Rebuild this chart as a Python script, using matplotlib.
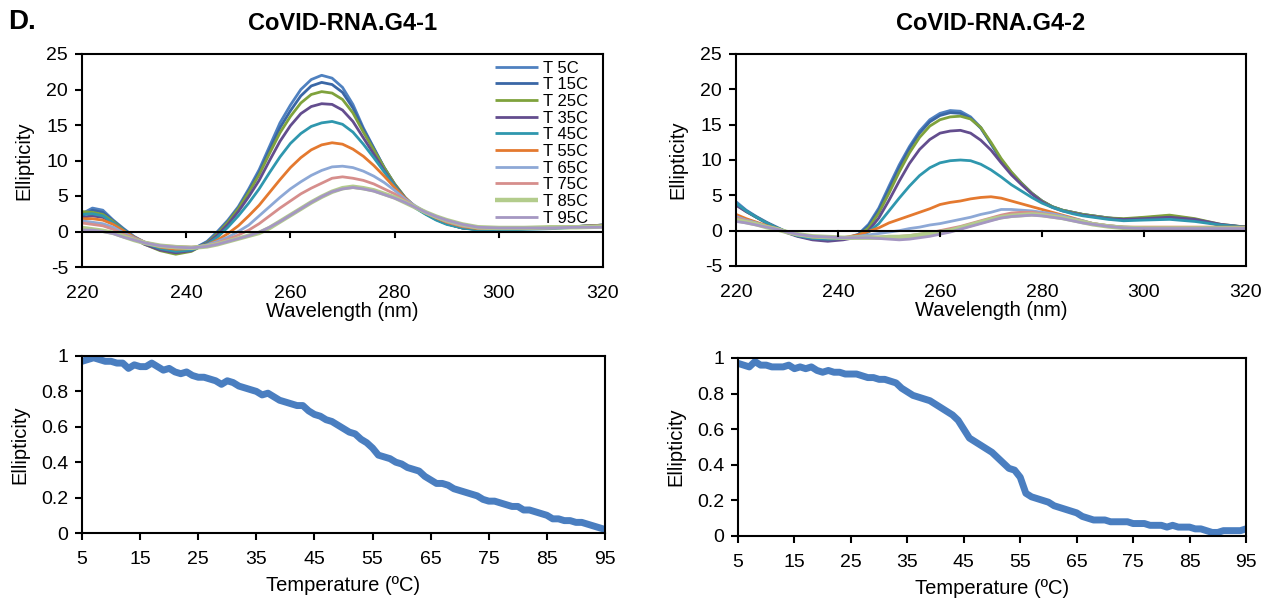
import matplotlib
matplotlib.use("Agg")
import matplotlib.pyplot as plt

plt.rcParams["font.family"] = ["Liberation Sans", "DejaVu Sans"]
plt.rcParams["axes.unicode_minus"] = False

# ---- CD spectra: wavelength grid (nm) ----
wl = [220, 222, 224, 226, 228, 230, 232, 235, 238, 241, 244, 246, 248, 250,
      252, 254, 256, 258, 260, 262, 264, 266, 268, 270, 272, 274, 276, 278,
      280, 282, 284, 286, 288, 290, 293, 296, 300, 305, 310, 315, 320]

temps = ["T 5C", "T 15C", "T 25C", "T 35C", "T 45C",
         "T 55C", "T 65C", "T 75C", "T 85C", "T 95C"]
colors = ["#4F81C0", "#3A67A6", "#7FA23C", "#634D8E", "#2F97AE",
          "#E4792F", "#8DA8D6", "#D68E8C", "#B3CC8C", "#A597C2"]
widths = [2.0, 2.0, 2.0, 2.0, 2.0, 2.0, 2.0, 2.0, 3.2, 2.0]

# CoVID-RNA.G4-1
g1_t5 = [2.5, 3.3, 3.0, 1.6, 0.4, -0.7, -1.5, -2.4, -3.0, -2.6, -1.4, 0.0, 1.6, 3.5,
         6.0, 8.7, 12.0, 15.3, 17.8, 20.0, 21.4, 22.0, 21.6, 20.3, 17.9, 14.6, 11.8, 9.0,
         6.6, 4.7, 3.4, 2.5, 1.7, 1.1, 0.5, 0.3, 0.3, 0.4, 0.5, 0.7, 0.9]
g1_t15 = [2.2, 3.0, 2.7, 1.5, 0.3, -0.8, -1.6, -2.5, -3.0, -2.6, -1.5, -0.2, 1.4, 3.3,
          5.7, 8.3, 11.5, 14.6, 17.0, 19.1, 20.5, 21.0, 20.7, 19.6, 17.4, 14.4, 11.7, 9.0,
          6.7, 4.8, 3.4, 2.5, 1.7, 1.1, 0.5, 0.3, 0.3, 0.4, 0.5, 0.7, 0.9]
g1_t25 = [2.8, 2.7, 2.4, 1.4, 0.2, -0.9, -1.8, -2.7, -3.2, -2.8, -1.6, -0.3, 1.3, 3.2,
          5.5, 8.0, 11.0, 13.9, 16.2, 18.1, 19.3, 19.7, 19.5, 18.6, 16.7, 14.0, 11.5, 9.0,
          6.7, 4.8, 3.4, 2.5, 1.7, 1.1, 0.5, 0.3, 0.3, 0.4, 0.5, 0.7, 0.9]
g1_t35 = [2.0, 2.2, 2.0, 1.2, 0.1, -1.0, -1.8, -2.6, -3.0, -2.7, -1.7, -0.5, 1.0, 2.8,
          4.9, 7.2, 10.0, 12.7, 14.9, 16.6, 17.6, 18.0, 17.9, 17.1, 15.5, 13.2, 10.9, 8.6,
          6.5, 4.7, 3.4, 2.5, 1.7, 1.1, 0.5, 0.3, 0.3, 0.4, 0.5, 0.7, 0.9]
g1_t45 = [2.4, 2.5, 2.2, 1.2, 0.2, -0.8, -1.6, -2.4, -2.8, -2.6, -1.8, -0.8, 0.6, 2.2,
          4.0, 6.0, 8.3, 10.5, 12.4, 13.8, 14.8, 15.3, 15.5, 15.1, 14.0, 12.3, 10.4, 8.4,
          6.4, 4.6, 3.3, 2.4, 1.6, 1.0, 0.5, 0.2, 0.2, 0.3, 0.4, 0.6, 0.8]
g1_t55 = [1.8, 1.8, 1.6, 1.0, 0.1, -0.8, -1.5, -2.2, -2.5, -2.4, -1.9, -1.2, -0.3, 0.8,
          2.2, 3.7, 5.5, 7.3, 9.0, 10.4, 11.5, 12.2, 12.5, 12.3, 11.6, 10.6, 9.3, 7.8,
          6.2, 4.7, 3.5, 2.6, 1.9, 1.3, 0.7, 0.4, 0.4, 0.5, 0.6, 0.7, 0.8]
g1_t65 = [1.5, 1.3, 1.1, 0.6, -0.2, -0.9, -1.5, -2.1, -2.3, -2.3, -1.9, -1.4, -0.8, 0.0,
          0.9, 2.2, 3.5, 4.8, 6.0, 7.0, 7.9, 8.6, 9.1, 9.2, 9.0, 8.5, 7.8, 6.9,
          5.8, 4.6, 3.6, 2.7, 2.0, 1.4, 0.8, 0.5, 0.4, 0.5, 0.5, 0.6, 0.7]
g1_t75 = [1.2, 1.0, 0.8, 0.3, -0.4, -1.0, -1.5, -2.0, -2.1, -2.2, -2.0, -1.6, -1.1, -0.5,
          0.2, 1.1, 2.2, 3.3, 4.3, 5.3, 6.1, 6.8, 7.5, 7.7, 7.5, 7.2, 6.7, 6.0,
          5.3, 4.4, 3.5, 2.7, 2.0, 1.4, 0.8, 0.5, 0.4, 0.5, 0.5, 0.6, 0.7]
g1_t85 = [0.5, 0.3, 0.1, -0.2, -0.7, -1.2, -1.6, -2.0, -2.2, -2.3, -2.1, -1.8, -1.4, -1.0,
          -0.6, -0.2, 0.5, 1.4, 2.3, 3.2, 4.1, 4.9, 5.6, 6.1, 6.3, 6.1, 5.8, 5.3,
          4.8, 4.1, 3.4, 2.7, 2.1, 1.6, 1.0, 0.6, 0.5, 0.5, 0.6, 0.6, 0.7]
g1_t95 = [0.2, 0.2, 0.0, -0.3, -0.8, -1.2, -1.6, -2.0, -2.2, -2.3, -2.1, -1.8, -1.4, -1.0,
          -0.6, -0.1, 0.6, 1.4, 2.3, 3.2, 4.1, 4.9, 5.6, 6.0, 6.2, 6.0, 5.7, 5.2,
          4.7, 4.1, 3.4, 2.7, 2.1, 1.6, 1.0, 0.6, 0.5, 0.5, 0.5, 0.6, 0.6]

# CoVID-RNA.G4-2
g2_t5 = [4.1, 2.9, 2.0, 1.2, 0.5, -0.2, -0.7, -1.2, -1.3, -1.2, -0.5, 0.9, 3.2, 6.3,
         9.3, 11.9, 14.1, 15.7, 16.6, 17.0, 16.9, 16.1, 14.6, 12.3, 10.0, 8.2, 6.7, 5.3,
         4.2, 3.4, 2.9, 2.6, 2.3, 2.1, 1.8, 1.6, 1.8, 2.0, 1.5, 0.8, 0.5]
g2_t15 = [3.8, 2.8, 1.9, 1.1, 0.4, -0.2, -0.7, -1.2, -1.3, -1.2, -0.6, 0.7, 2.9, 5.9,
          8.9, 11.6, 13.8, 15.4, 16.3, 16.7, 16.6, 15.9, 14.5, 12.3, 10.0, 8.2, 6.7, 5.3,
          4.2, 3.4, 2.9, 2.6, 2.3, 2.1, 1.8, 1.6, 1.8, 2.1, 1.6, 0.8, 0.5]
g2_t25 = [3.7, 2.7, 1.9, 1.1, 0.4, -0.2, -0.7, -1.2, -1.3, -1.2, -0.7, 0.4, 2.5, 5.3,
          8.3, 11.0, 13.2, 14.8, 15.7, 16.1, 16.2, 15.8, 14.6, 12.5, 10.2, 8.3, 6.7, 5.3,
          4.2, 3.4, 2.9, 2.6, 2.3, 2.1, 1.8, 1.7, 1.9, 2.2, 1.7, 0.9, 0.5]
g2_t35 = [3.6, 2.7, 1.9, 1.1, 0.4, -0.3, -0.8, -1.3, -1.5, -1.3, -0.9, 0.0, 1.8, 4.3,
          7.0, 9.5, 11.5, 12.9, 13.8, 14.1, 14.2, 13.8, 12.8, 11.4, 9.6, 7.9, 6.5, 5.2,
          4.1, 3.3, 2.8, 2.5, 2.2, 2.0, 1.7, 1.6, 1.7, 1.9, 1.6, 0.9, 0.5]
g2_t45 = [3.9, 2.8, 1.9, 1.1, 0.4, -0.2, -0.7, -1.1, -1.2, -1.1, -0.8, -0.2, 1.0, 2.8,
          4.6, 6.3, 7.8, 8.9, 9.6, 9.9, 10.0, 9.9, 9.4, 8.6, 7.6, 6.5, 5.6, 4.7,
          3.9, 3.3, 2.8, 2.4, 2.1, 1.9, 1.6, 1.4, 1.5, 1.6, 1.3, 0.8, 0.5]
g2_t55 = [2.3, 1.7, 1.2, 0.7, 0.3, -0.2, -0.5, -0.9, -1.0, -1.0, -0.6, -0.1, 0.4, 1.1,
          1.6, 2.1, 2.6, 3.1, 3.7, 4.0, 4.2, 4.5, 4.7, 4.8, 4.6, 4.2, 3.8, 3.4,
          3.0, 2.6, 2.2, 1.8, 1.4, 1.0, 0.7, 0.5, 0.5, 0.5, 0.5, 0.5, 0.5]
g2_t65 = [2.0, 1.5, 1.1, 0.6, 0.2, -0.2, -0.5, -0.8, -1.0, -1.0, -0.8, -0.6, -0.4, -0.2,
          0.0, 0.3, 0.5, 0.8, 1.0, 1.3, 1.6, 1.9, 2.3, 2.6, 3.0, 3.0, 2.9, 2.8,
          2.6, 2.4, 2.1, 1.7, 1.4, 1.0, 0.7, 0.5, 0.4, 0.4, 0.4, 0.4, 0.4]
g2_t75 = [1.8, 1.4, 1.0, 0.6, 0.2, -0.2, -0.5, -0.8, -0.9, -1.0, -1.0, -0.9, -0.9, -0.8,
          -0.8, -0.7, -0.5, -0.3, 0.0, 0.3, 0.6, 1.0, 1.4, 1.8, 2.2, 2.5, 2.6, 2.6,
          2.4, 2.2, 1.9, 1.6, 1.3, 1.0, 0.7, 0.5, 0.4, 0.4, 0.4, 0.4, 0.4]
g2_t85 = [1.5, 1.2, 0.9, 0.5, 0.2, -0.2, -0.5, -0.8, -0.9, -1.0, -1.0, -1.0, -1.0, -0.9,
          -0.9, -0.8, -0.6, -0.4, -0.2, 0.0, 0.4, 0.8, 1.2, 1.6, 1.9, 2.1, 2.2, 2.3,
          2.2, 2.0, 1.8, 1.5, 1.2, 0.9, 0.6, 0.4, 0.3, 0.3, 0.3, 0.3, 0.3]
g2_t95 = [1.3, 1.1, 0.8, 0.5, 0.2, -0.2, -0.5, -0.8, -0.9, -1.0, -1.0, -1.0, -1.1, -1.2,
          -1.3, -1.2, -1.0, -0.8, -0.5, -0.2, 0.2, 0.6, 1.0, 1.4, 1.8, 2.0, 2.1, 2.2,
          2.1, 1.9, 1.7, 1.4, 1.1, 0.9, 0.6, 0.4, 0.3, 0.3, 0.3, 0.3, 0.3]

g1_spectra = [g1_t5, g1_t15, g1_t25, g1_t35, g1_t45, g1_t55, g1_t65, g1_t75, g1_t85, g1_t95]
g2_spectra = [g2_t5, g2_t15, g2_t25, g2_t35, g2_t45, g2_t55, g2_t65, g2_t75, g2_t85, g2_t95]

# ---- melting curves (normalised ellipticity vs temperature) ----
temp_c = list(range(5, 96))
melt_g1 = [.97, .98, .99, .98, .97, .97, .96, .96, .93, .95, .94, .94, .96, .94, .92,
           .93, .91, .90, .91, .89, .88, .88, .87, .86, .84, .86, .85, .83, .82, .81,
           .80, .78, .79, .77, .75, .74, .73, .72, .72, .69, .67, .66, .64, .63, .61,
           .59, .57, .56, .53, .51, .48, .44, .43, .42, .40, .39, .37, .36, .35, .32,
           .30, .28, .28, .27, .25, .24, .23, .22, .21, .19, .18, .18, .17, .16, .15,
           .15, .13, .13, .12, .11, .10, .08, .08, .07, .07, .06, .06, .05, .04, .03, .02]
melt_g2 = [.97, .96, .95, .98, .96, .96, .95, .95, .95, .96, .94, .95, .94, .95, .93,
           .92, .93, .92, .92, .91, .91, .91, .90, .89, .89, .88, .88, .87, .86, .83,
           .81, .79, .78, .77, .76, .74, .72, .70, .68, .65, .60, .55, .53, .51, .49,
           .47, .44, .41, .38, .37, .33, .24, .22, .21, .20, .19, .17, .16, .15, .14,
           .13, .11, .10, .09, .09, .09, .08, .08, .08, .08, .07, .07, .07, .06, .06,
           .06, .05, .06, .05, .05, .05, .04, .04, .03, .02, .02, .03, .03, .03, .03, .04]

W, H = 1273, 602
fig = plt.figure(figsize=(W / 100, H / 100), dpi=100)
TICK_FS = 14
LAB_FS = 14.5


def box(ax):
    for s in ax.spines.values():
        s.set_linewidth(1.5)
        s.set_color("black")
    ax.tick_params(axis="both", labelsize=TICK_FS, width=1.5, length=5, direction="out")
    ax.tick_params(axis="y", pad=5)


def cd_panel(rect, spectra, title, legend):
    ax = fig.add_axes(rect)
    for ys, c, lw, lab in zip(spectra, colors, widths, temps):
        ax.plot(wl, ys, color=c, lw=lw, label=lab, solid_capstyle="butt")
    ax.set_xlim(220, 320)
    ax.set_ylim(-5, 25)
    ax.set_xticks(range(220, 321, 20))
    ax.set_yticks(range(-5, 26, 5))
    box(ax)
    # excel-style horizontal axis crossing at zero
    ax.axhline(0, color="black", lw=1.5, zorder=3)
    ax.tick_params(axis="x", length=0, pad=13)
    for x in ax.get_xticks()[1:-1]:
        ax.plot([x, x], [0, -0.8], color="black", lw=1.5, zorder=3)
    ax.set_ylabel("Ellipticity", fontsize=LAB_FS, labelpad=9)
    ax.set_xlabel("Wavelength (nm)", fontsize=LAB_FS, labelpad=0)
    ax.set_title(title, fontsize=17, fontweight="bold", pad=17)
    if legend:
        ax.legend(loc="upper right", frameon=False, fontsize=12, handlelength=2.6,
                  labelspacing=0.1, handletextpad=0.3, borderaxespad=0.0,
                  bbox_to_anchor=(0.985, 1.0))
    return ax


def melt_panel(rect, ys):
    ax = fig.add_axes(rect)
    ax.plot(temp_c, ys, color="#4A7EC0", lw=5.0)
    ax.set_xlim(5, 95)
    ax.set_ylim(0, 1)
    ax.set_xticks(range(5, 96, 10))
    ax.set_yticks([0, 0.2, 0.4, 0.6, 0.8, 1])
    ax.set_yticklabels(["0", "0.2", "0.4", "0.6", "0.8", "1"])
    box(ax)
    ax.tick_params(axis="x", pad=8)
    ax.set_ylabel("Ellipticity", fontsize=LAB_FS, labelpad=8)
    ax.set_xlabel("Temperature (ºC)", fontsize=LAB_FS, labelpad=6)
    return ax


cd_panel([82 / W, 1 - 267 / H, 521 / W, 213 / H], g1_spectra, "CoVID-RNA.G4-1", True)
cd_panel([736 / W, 1 - 266 / H, 510 / W, 212 / H], g2_spectra, "CoVID-RNA.G4-2", False)
melt_panel([82 / W, 1 - 533 / H, 523 / W, 177 / H], melt_g1)
melt_panel([738 / W, 1 - 536 / H, 508 / W, 178 / H], melt_g2)

fig.text(8 / W, 1 - 22 / H, "D.", fontsize=20, fontweight="bold", va="center", ha="left")

fig.savefig("out.png", dpi=100)
